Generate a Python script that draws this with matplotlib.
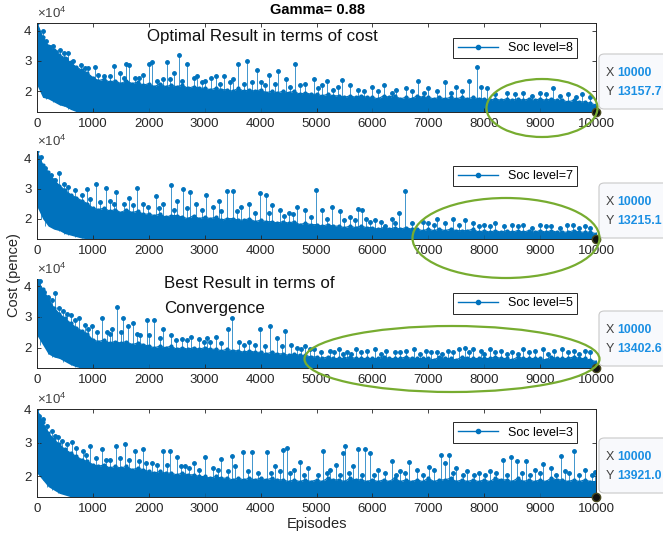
import numpy as np
import matplotlib
matplotlib.use('Agg')
import matplotlib.pyplot as plt
from matplotlib.lines import Line2D
from matplotlib.patches import Ellipse, FancyBboxPatch

# cost in thousands of pence; the dense band is kept as its upper and lower
# edge every 100 episodes, the isolated peaks as (episode, cost) pairs
band_ep = np.arange(0, 10001, 100)

s8_top = [
    42.5, 38.0, 35.0, 33.5, 32.0, 31.0, 29.5, 28.0, 27.0, 26.0,
    24.5, 23.5, 24.0, 23.0, 23.5, 22.5, 23.5, 22.5, 23.0, 22.0,
    22.5, 21.5, 22.5, 21.5, 22.0, 21.5, 22.0, 21.0, 21.5, 21.0,
    21.0, 20.5, 21.0, 20.5, 20.5, 20.0, 21.0, 20.0, 20.5, 20.0,
    20.5, 19.5, 20.0, 19.5, 20.0, 19.5, 20.0, 19.0, 19.5, 19.0,
    19.0, 18.5, 19.0, 18.5, 18.5, 18.0, 18.5, 18.0, 18.5, 18.0,
    18.0, 17.5, 18.5, 18.0, 18.5, 17.5, 18.0, 17.5, 18.5, 18.0,
    18.0, 17.5, 18.0, 17.5, 18.0, 17.5, 18.0, 17.5, 18.0, 17.5,
    17.5, 17.0, 17.5, 17.0, 17.5, 17.0, 17.5, 17.0, 17.5, 17.0,
    17.5, 17.0, 17.5, 17.0, 17.0, 16.5, 17.0, 16.5, 16.5, 16.0,
    15.5]
s8_low = [
    22.0, 18.0, 17.5, 16.5, 15.5, 15.0, 14.0, 13.3, 13.2, 13.2,
    13.2, 13.2, 13.2, 13.2, 13.2, 13.2, 13.2, 13.2, 13.2, 13.2,
    13.2, 13.2, 13.2, 13.2, 13.2, 13.2, 13.2, 13.2, 13.2, 13.2,
    13.2, 13.2, 13.2, 13.2, 13.2, 13.2, 13.2, 13.2, 13.2, 13.2,
    13.2, 13.2, 13.2, 13.2, 13.2, 13.2, 13.2, 13.2, 13.2, 13.2,
    13.2, 13.2, 13.2, 13.2, 13.2, 13.2, 13.2, 13.2, 13.2, 13.2,
    13.2, 13.2, 13.2, 13.2, 13.2, 13.2, 13.2, 13.2, 13.2, 13.2,
    13.2, 13.2, 13.2, 13.2, 13.2, 13.2, 13.2, 13.2, 13.2, 13.2,
    13.2, 13.2, 13.2, 13.2, 13.2, 13.2, 13.2, 13.2, 13.2, 13.2,
    13.2, 13.2, 13.2, 13.2, 13.2, 13.2, 13.2, 13.2, 13.2, 13.2,
    13.2]
s8_peak_ep = [230, 410, 560, 700, 860, 1040, 1200, 1370, 1480, 1600, 1650,
              1750, 1900, 2000, 2050, 2250, 2330, 2450, 2540, 2680, 2800,
              2870, 3000, 3110, 3200, 3350, 3500, 3600, 3750, 3930, 4000,
              4150, 4320, 4450, 4610, 4800, 4950, 5100, 5180, 5450, 5600,
              5750, 6000, 6200, 6430, 6600, 6820, 7000, 7300, 7500, 7720,
              7880, 7950, 8050, 8400, 8700, 9000, 9225, 9500, 9750]
s8_peak = [34.7, 33.6, 32.5, 27.0, 27.6, 28.0, 25.0, 28.3, 26.0, 29.0, 28.8,
           24.5, 25.5, 29.0, 29.5, 24.0, 29.5, 26.0, 32.0, 29.0, 24.5,
           25.0, 23.5, 24.5, 25.0, 25.0, 24.0, 29.0, 30.0, 27.0, 23.0,
           25.5, 26.6, 24.0, 29.0, 22.5, 24.0, 22.0, 23.3, 23.6, 22.0,
           20.5, 21.5, 22.0, 20.5, 21.0, 23.5, 21.0, 23.0, 21.5, 23.5,
           28.0, 21.5, 21.0, 19.5, 19.5, 19.5, 21.0, 19.0, 19.0]
# short excursions just above the band
s8_bump_ep = [100, 160, 280, 340, 480, 520, 640, 780, 920, 1100, 1300,
              1550, 1820, 2150, 2380, 2600, 2950, 3280, 3450, 3700, 3850,
              4080, 4250, 4530, 4700, 5020, 5300, 5380, 5850, 6100, 6350,
              6700, 6920, 7150, 7400, 7600, 8200, 8550, 8850, 9100, 9350,
              9650, 9900]
s8_bump = [40.0, 36.5, 35.0, 33.0, 32.5, 30.5, 30.0, 28.5, 27.5, 25.5, 25.0,
           24.5, 24.5, 23.5, 24.0, 23.5, 23.0, 22.5, 23.0, 22.5, 23.0,
           22.0, 22.5, 21.5, 22.0, 21.0, 20.5, 21.5, 20.0, 20.0, 19.5,
           20.0, 19.5, 20.0, 19.5, 20.0, 19.0, 19.0, 18.5, 19.0, 18.5,
           18.0, 18.0]

s7_top = [
    42.5, 38.0, 35.5, 33.0, 31.0, 29.5, 28.0, 27.0, 26.0, 25.0,
    23.5, 23.0, 23.5, 22.5, 23.0, 22.0, 23.0, 22.0, 22.5, 21.5,
    21.5, 21.0, 21.5, 20.5, 21.0, 21.0, 20.5, 20.0, 21.0, 20.0,
    20.5, 20.0, 20.5, 19.5, 20.0, 20.0, 19.5, 19.5, 20.0, 19.0,
    19.5, 19.0, 19.0, 18.5, 19.0, 18.5, 19.0, 18.0, 18.5, 18.0,
    18.0, 17.5, 18.0, 17.5, 17.5, 17.0, 17.5, 17.0, 17.5, 17.0,
    17.0, 16.5, 17.0, 16.5, 17.0, 16.5, 17.0, 16.5, 16.5, 16.0,
    16.5, 16.0, 16.5, 16.0, 16.5, 16.0, 16.0, 16.0, 16.5, 15.5,
    16.0, 15.5, 16.0, 15.5, 16.0, 15.5, 16.0, 15.5, 16.0, 15.5,
    16.0, 15.5, 16.0, 15.5, 15.5, 15.5, 16.0, 15.5, 15.5, 15.5,
    15.0]
s7_low = [
    24.0, 20.0, 17.5, 16.5, 16.0, 15.0, 14.5, 14.0, 13.5, 13.3,
    13.2, 13.2, 13.2, 13.2, 13.2, 13.2, 13.2, 13.2, 13.2, 13.2,
    13.2, 13.2, 13.2, 13.2, 13.2, 13.2, 13.2, 13.2, 13.2, 13.2,
    13.2, 13.2, 13.2, 13.2, 13.2, 13.2, 13.2, 13.2, 13.2, 13.2,
    13.2, 13.2, 13.2, 13.2, 13.2, 13.2, 13.2, 13.2, 13.2, 13.2,
    13.2, 13.2, 13.2, 13.2, 13.2, 13.2, 13.2, 13.2, 13.2, 13.2,
    13.2, 13.2, 13.2, 13.2, 13.2, 13.2, 13.2, 13.2, 13.2, 13.2,
    13.2, 13.2, 13.2, 13.2, 13.2, 13.2, 13.2, 13.2, 13.2, 13.2,
    13.2, 13.2, 13.2, 13.2, 13.2, 13.2, 13.2, 13.2, 13.2, 13.2,
    13.2, 13.2, 13.2, 13.2, 13.2, 13.2, 13.2, 13.2, 13.2, 13.2,
    13.2]
s7_peak_ep = [400, 900, 1060, 1230, 1300, 1420, 1550, 1650, 1790, 1900,
              2120, 2250, 2390, 2500, 2620, 2730, 2850, 3020, 3150, 3250,
              3390, 3500, 3650, 3800, 3990, 4090, 4200, 4350, 4500, 4650,
              4800, 4990, 5090, 5270, 5420, 5600, 5750, 5820, 5880, 6050,
              6220, 6350, 6480, 6590, 6900, 7000, 7150, 7300, 7440, 7660,
              7800, 8000, 8200, 8500, 8700, 9000, 9200, 9480, 9590, 9800]
s7_peak = [35.3, 29.9, 31.4, 30.2, 26.0, 28.8, 25.0, 27.0, 30.1, 25.0,
           27.5, 25.0, 31.2, 26.0, 30.0, 28.8, 25.0, 27.9, 24.0, 26.0,
           29.1, 29.1, 24.0, 25.0, 28.5, 27.7, 24.5, 23.0, 22.0, 24.0,
           23.0, 29.6, 22.7, 23.9, 22.4, 20.5, 23.2, 23.0, 20.0, 19.5,
           17.6, 20.0, 22.0, 29.1, 19.0, 18.5, 20.0, 18.5, 20.0, 19.5,
           18.5, 18.0, 18.5, 18.0, 18.0, 18.0, 17.5, 18.0, 17.8, 17.5]
s7_bump_ep = [80, 150, 250, 330, 480, 560, 680, 800, 950, 1130, 1380,
              1720, 1980, 2180, 2450, 2680, 2950, 3300, 3580, 3900, 4150,
              4420, 4580, 4900, 5180, 5500, 5680, 5950, 6150, 6400, 6700,
              7100, 7550, 7900, 8100, 8350, 8600, 8850, 9100, 9350, 9700,
              9900]
s7_bump = [40.5, 37.0, 34.5, 33.0, 31.5, 30.5, 29.5, 28.0, 26.5, 25.5, 25.0,
           24.5, 24.0, 23.5, 23.0, 23.5, 23.0, 22.5, 22.5, 22.0, 22.0,
           21.0, 21.5, 20.5, 20.0, 19.5, 19.5, 19.0, 19.0, 18.5, 18.5,
           18.0, 18.0, 17.5, 17.5, 17.5, 17.5, 17.0, 17.5, 17.0, 17.0,
           17.0]

s5_top = [
    42.3, 39.0, 36.0, 33.0, 31.0, 29.5, 28.0, 26.5, 25.5, 24.5,
    22.5, 22.0, 22.5, 21.5, 22.0, 21.5, 22.0, 21.0, 21.5, 21.0,
    20.5, 20.0, 20.5, 20.0, 20.5, 19.5, 20.0, 19.5, 20.0, 19.5,
    20.0, 19.5, 19.5, 19.0, 19.5, 19.0, 19.0, 18.5, 19.0, 18.5,
    18.5, 18.0, 18.5, 18.0, 18.0, 17.5, 18.0, 17.5, 17.5, 17.0,
    17.0, 16.5, 17.0, 16.5, 16.5, 16.5, 17.0, 16.5, 16.5, 16.5,
    16.5, 16.5, 17.0, 16.5, 16.5, 16.5, 17.0, 16.5, 16.5, 16.5,
    16.5, 16.0, 17.0, 16.5, 16.5, 16.0, 17.0, 16.5, 16.5, 16.5,
    16.5, 16.5, 17.0, 16.5, 16.5, 16.0, 17.0, 16.5, 16.5, 16.5,
    16.5, 16.0, 17.0, 16.5, 16.5, 16.5, 17.0, 16.5, 16.5, 16.0,
    15.5]
s5_low = [
    24.0, 21.0, 18.0, 17.0, 16.5, 15.5, 14.5, 13.8, 13.4, 13.4,
    13.4, 13.4, 13.4, 13.4, 13.4, 13.4, 13.4, 13.4, 13.4, 13.4,
    13.4, 13.4, 13.4, 13.4, 13.4, 13.4, 13.4, 13.4, 13.4, 13.4,
    13.4, 13.4, 13.4, 13.4, 13.4, 13.4, 13.4, 13.4, 13.4, 13.4,
    13.4, 13.4, 13.4, 13.4, 13.4, 13.4, 13.4, 13.4, 13.4, 13.4,
    13.4, 13.4, 13.4, 13.4, 13.4, 13.4, 13.4, 13.4, 13.4, 13.4,
    13.4, 13.4, 13.4, 13.4, 13.4, 13.4, 13.4, 13.4, 13.4, 13.4,
    13.4, 13.4, 13.4, 13.4, 13.4, 13.4, 13.4, 13.4, 13.4, 13.4,
    13.4, 13.4, 13.4, 13.4, 13.4, 13.4, 13.4, 13.4, 13.4, 13.4,
    13.4, 13.4, 13.4, 13.4, 13.4, 13.4, 13.4, 13.4, 13.4, 13.4,
    13.4]
s5_peak_ep = [322, 530, 760, 980, 1160, 1250, 1350, 1440, 1540, 1620,
              1720, 1850, 1960, 2090, 2260, 2400, 2590, 2750, 2890, 3050,
              3200, 3420, 3490, 3620, 3800, 3990, 4170, 4300, 4440, 4550,
              4660, 4800, 4950, 5250, 5400, 5550, 5700, 5900, 6050, 6250,
              6400, 6600, 6750, 6950, 7150, 7350, 7550, 7650, 7800, 7950,
              8100, 8300, 8500, 8700, 8900, 9050, 9250, 9400, 9600, 9800]
s5_peak = [37.7, 31.0, 29.5, 27.0, 29.7, 25.0, 26.0, 33.3, 29.7, 27.0,
           28.0, 24.0, 29.0, 29.0, 26.0, 24.0, 22.8, 23.5, 22.8, 23.0,
           23.5, 26.0, 29.7, 22.0, 22.0, 26.0, 27.0, 23.0, 25.5, 21.0,
           20.0, 20.5, 19.5, 19.0, 19.5, 18.5, 19.5, 19.0, 19.5, 19.0,
           18.5, 19.0, 19.5, 19.0, 18.5, 19.0, 19.5, 20.0, 19.5, 19.0,
           19.5, 19.0, 18.5, 19.5, 19.0, 19.5, 19.0, 19.5, 19.0, 19.0]
s5_bump_ep = [60, 130, 200, 260, 400, 460, 600, 680, 850, 920, 1080, 1300,
              1500, 1780, 2000, 2200, 2480, 2680, 2980, 3100, 3300, 3700,
              3900, 4080, 4380, 4720, 4880, 5080, 5320, 5480, 5620, 5800,
              6150, 6500, 6850, 7050, 7250, 7450, 7720, 8000, 8200, 8400,
              8600, 8800, 9150, 9500, 9700, 9900]
s5_bump = [41.5, 38.0, 36.5, 35.5, 33.0, 32.0, 30.5, 29.0, 27.5, 26.0, 25.0,
           24.5, 25.0, 24.5, 24.0, 23.0, 22.5, 22.5, 22.0, 22.0, 21.5,
           21.0, 21.0, 20.5, 20.5, 19.5, 19.5, 18.5, 18.5, 18.0, 18.0,
           18.5, 18.0, 18.5, 18.0, 18.5, 18.0, 18.5, 18.5, 18.0, 18.5,
           18.0, 18.0, 18.5, 18.0, 18.5, 18.0, 18.5]

s3_top = [
    40.0, 36.0, 33.0, 31.0, 29.5, 28.0, 27.0, 26.0, 25.0, 24.5,
    23.5, 23.0, 23.5, 22.5, 23.0, 22.5, 23.0, 22.0, 22.5, 22.0,
    21.5, 21.0, 21.5, 21.0, 21.0, 20.5, 21.0, 20.5, 20.5, 20.0,
    20.0, 19.5, 20.0, 19.5, 19.5, 19.0, 19.5, 19.0, 19.5, 19.0,
    19.5, 19.0, 19.5, 19.0, 19.0, 18.5, 19.0, 18.5, 19.0, 18.5,
    19.0, 18.5, 19.5, 19.0, 19.0, 18.5, 19.5, 19.0, 19.0, 18.5,
    19.0, 18.5, 19.0, 18.5, 19.5, 18.5, 19.0, 18.5, 19.0, 18.5,
    19.5, 18.5, 19.0, 19.0, 19.5, 18.5, 19.0, 18.5, 19.0, 18.5,
    19.0, 18.5, 19.5, 19.0, 19.0, 18.5, 19.5, 18.5, 19.0, 18.5,
    19.0, 18.5, 19.5, 19.0, 19.0, 18.5, 19.0, 18.5, 19.0, 18.5,
    18.5]
s3_low = [
    21.0, 19.0, 17.0, 16.0, 15.0, 14.5, 14.0, 14.0, 14.0, 14.0,
    14.0, 14.0, 14.0, 14.0, 14.0, 14.0, 14.0, 14.0, 14.0, 14.0,
    14.0, 14.0, 14.0, 14.0, 14.0, 14.0, 14.0, 14.0, 14.0, 14.0,
    14.0, 14.0, 14.0, 14.0, 14.0, 14.0, 14.0, 14.0, 14.0, 14.0,
    14.0, 14.0, 14.0, 14.0, 14.0, 14.0, 14.0, 14.0, 14.0, 14.0,
    14.0, 14.0, 14.0, 14.0, 14.0, 14.0, 14.0, 14.0, 14.0, 14.0,
    14.0, 14.0, 14.0, 14.0, 14.0, 14.0, 14.0, 14.0, 14.0, 14.0,
    14.0, 14.0, 14.0, 14.0, 14.0, 14.0, 14.0, 14.0, 14.0, 14.0,
    14.0, 14.0, 14.0, 14.0, 14.0, 14.0, 14.0, 14.0, 14.0, 14.0,
    14.0, 14.0, 14.0, 14.0, 14.0, 14.0, 14.0, 14.0, 14.0, 14.0,
    14.0]
s3_peak_ep = [380, 620, 950, 1160, 1300, 1410, 1570, 1650, 1750, 1890,
              2050, 2150, 2250, 2380, 2500, 2650, 2800, 3000, 3150, 3300,
              3480, 3550, 3690, 3850, 4110, 4250, 4400, 4480, 4600, 4710,
              4850, 5120, 5250, 5350, 5470, 5510, 5650, 5750, 5870, 5950,
              6100, 6350, 6500, 6650, 6800, 7010, 7100, 7220, 7300, 7370,
              7500, 7700, 7900, 8100, 8330, 8480, 8590, 8750, 8900, 9050,
              9200, 9380, 9450, 9600, 9800, 9990]
s3_peak = [31.8, 30.2, 28.9, 28.0, 25.0, 29.0, 29.5, 25.0, 27.5, 28.0,
           24.0, 23.5, 27.5, 27.5, 25.8, 23.0, 24.0, 25.8, 22.5, 25.3,
           26.2, 23.0, 27.2, 27.2, 27.3, 23.0, 27.8, 28.4, 22.0, 24.3,
           22.5, 27.5, 22.0, 23.5, 27.0, 29.0, 23.0, 28.0, 28.0, 27.0,
           22.0, 24.5, 21.5, 24.2, 22.0, 22.8, 22.0, 26.5, 24.0, 26.5,
           22.5, 21.5, 21.0, 21.5, 25.0, 25.7, 24.5, 24.5, 22.0, 23.8,
           22.5, 26.2, 21.5, 27.5, 22.0, 21.3]
s3_bump_ep = [40, 100, 180, 260, 320, 450, 540, 700, 820, 880, 1050, 1230,
              1480, 1820, 1950, 2320, 2580, 2720, 2900, 3230, 3420, 3780,
              3950, 4180, 4340, 4530, 4780, 5020, 5180, 5420, 5580, 5820,
              6020, 6220, 6430, 6580, 6900, 7450, 7620, 7820, 8020, 8220,
              8400, 8680, 8820, 9000, 9280, 9520, 9700, 9920]
s3_bump = [38.0, 37.0, 35.0, 33.5, 32.0, 30.5, 29.5, 28.5, 27.5, 26.5, 25.5,
           25.0, 25.5, 24.5, 24.0, 23.5, 23.0, 22.5, 22.0, 22.0, 21.5,
           21.5, 21.0, 21.0, 21.5, 21.0, 20.5, 20.5, 21.0, 20.5, 21.0,
           20.5, 20.5, 21.0, 20.5, 21.0, 20.5, 21.0, 20.5, 20.5, 20.5,
           21.0, 20.5, 21.0, 20.5, 21.0, 20.5, 21.0, 20.5, 20.5]

# value at the last episode (shown in the data tips)
last_cost = [13157.7, 13215.1, 13402.6, 13921.0]

tops = [s8_top, s7_top, s5_top, s3_top]
lows = [s8_low, s7_low, s5_low, s3_low]
peak_eps = [s8_peak_ep + s8_bump_ep, s7_peak_ep + s7_bump_ep,
            s5_peak_ep + s5_bump_ep, s3_peak_ep + s3_bump_ep]
peaks = [s8_peak + s8_bump, s7_peak + s7_bump,
         s5_peak + s5_bump, s3_peak + s3_bump]
labels = ['Soc level=8', 'Soc level=7', 'Soc level=5', 'Soc level=3']
xticks = [0, 1000, 2000, 3000, 4000, 5000, 6000, 7000, 8000, 9000, 10000]

plt.rcParams['font.family'] = ['Liberation Sans', 'DejaVu Sans']
plt.rcParams['mathtext.default'] = 'regular'

W, H = 663, 544
fig = plt.figure(figsize=(W / 100, H / 100), dpi=100)
blue = '#0072BD'
dark = '#262626'

def fx(x):
    return x / W

def fy(y):
    return 1 - y / H

# axes boxes in pixels: top, bottom
rows = [(23, 112), (151, 239), (279, 368), (409, 497)]
boxed = [True, False, False, True]
leg_top = [0.905, 0.905, 0.913, 0.92]

axes = []
for k in range(4):
    top, bot = rows[k]
    ax = fig.add_axes([fx(37), fy(bot), fx(596) - fx(37), (bot - top) / H])
    hi = np.array(tops[k]) * 1000
    lo = np.array(lows[k]) * 1000
    pe = np.array(peak_eps[k])
    pv = np.array(peaks[k]) * 1000
    ymin = last_cost[k]
    ymax = max(hi.max(), pv.max())
    # stems start inside the band, not below its lower edge
    stem_base = lo[np.clip(np.round(pe / 100).astype(int), 0, len(lo) - 1)]

    ax.fill_between(band_ep, lo, hi, color=blue, lw=0)
    ax.plot(band_ep, hi, color=blue, lw=0.8, marker='.', ms=4)
    ax.vlines(pe, stem_base, pv, color=blue, lw=0.7, alpha=0.75)
    ax.plot(pe, pv, '.', color=blue, ms=5)
    ax.plot([10000], [ymin], 'o', ms=6, mfc='#111111', mec='#4a4a20',
            mew=1, clip_on=False, zorder=5)

    ax.set_xlim(0, 10000)
    ax.set_ylim(ymin, ymax)
    ax.set_xticks(xticks)
    ax.set_yticks([20000, 30000, 40000])
    ax.set_yticklabels(['2', '3', '4'])
    ax.tick_params(direction='in', length=3, width=0.6, colors=dark,
                   labelsize=9.5, top=boxed[k], right=boxed[k], pad=4)
    for s in ['top', 'right']:
        ax.spines[s].set_visible(boxed[k])
    for s in ax.spines.values():
        s.set_color(dark)
        s.set_linewidth(0.7)
    ax.text(0, 1.02, r'$\times10^{4}$', transform=ax.transAxes, fontsize=9.5,
            color='#404040', va='bottom', ha='left')
    handle = Line2D([], [], color=blue, lw=1.0, marker='.', ms=6)
    leg = ax.legend([handle], [labels[k]], loc='upper right',
                    bbox_to_anchor=(0.977, leg_top[k]), fontsize=9,
                    handlelength=3.2, fancybox=False, framealpha=1,
                    edgecolor=dark, borderpad=0.35)
    leg.get_frame().set_linewidth(0.7)
    axes.append(ax)

axes[3].set_xlabel('Episodes', fontsize=10.5, color=dark, labelpad=2)
fig.text(fx(317), fy(10), 'Gamma= 0.88', ha='center', va='center',
         fontsize=10.5, fontweight='bold', color='black')
fig.text(fx(14), fy(275), 'Cost (pence)', rotation=90, ha='center',
         va='center', fontsize=10.5, color=dark)

# notes on the panels
fig.text(fx(147), fy(36), 'Optimal Result in terms of cost', fontsize=12.2,
         va='center', ha='left', color='#111111')
fig.text(fx(164), fy(284), 'Best Result in terms of', fontsize=12.2,
         va='center', ha='left', color='#111111')
fig.text(fx(164), fy(308), 'Convergence', fontsize=12.2,
         va='center', ha='left', color='#111111')

# green rings around the tail of each run
rings = [(542, 108, 111, 58), (506, 238, 187, 80), (452, 359, 295, 66)]
for cx, cy, w, h in rings:
    fig.add_artist(Ellipse((fx(cx), fy(cy)), w / W, h / H, fill=False,
                           edgecolor='#77AC30', lw=1.6, zorder=10))

# data tips at the last episode
tip_tops = [54, 183, 311, 438]
for k in range(4):
    t = tip_tops[k]
    box = FancyBboxPatch((fx(599), fy(t + 55)), fx(80), 55 / H,
                         boxstyle='round,pad=0,rounding_size=0.008',
                         transform=fig.transFigure, facecolor='#f8f9fc',
                         edgecolor='#c9c9c9', lw=0.8, zorder=8)
    fig.add_artist(box)
    fig.text(fx(606), fy(t + 19), 'X', fontsize=9, color='#404040',
             va='center', zorder=9)
    fig.text(fx(617), fy(t + 19), '10000', fontsize=8.8, color='#1a8fe3',
             fontweight='bold', va='center', zorder=9)
    fig.text(fx(606), fy(t + 38), 'Y', fontsize=9, color='#404040',
             va='center', zorder=9)
    fig.text(fx(617), fy(t + 38), '%.1f' % last_cost[k], fontsize=8.8,
             color='#1a8fe3', fontweight='bold', va='center', zorder=9)

plt.savefig('out.png', dpi=100)
